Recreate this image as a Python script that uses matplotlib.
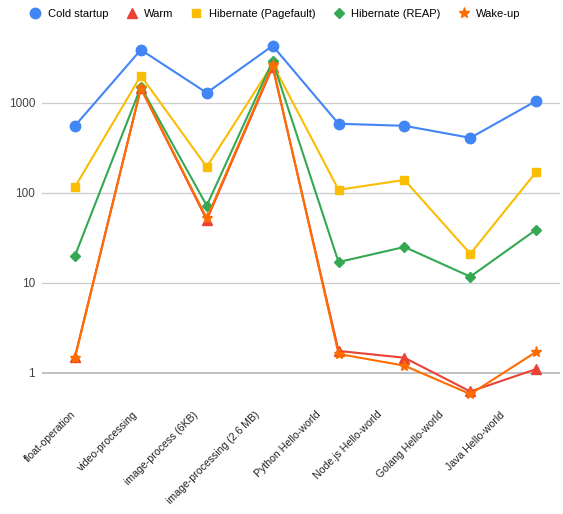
import matplotlib
matplotlib.use("Agg")
import matplotlib.pyplot as plt
import matplotlib.transforms as mtransforms
import numpy as np

categories = ["float-operation", "video-processing", "image-process (6KB)",
              "image-processing (2.6 MB)", "Python Hello-world",
              "Node.js Hello-world", "Golang Hello-world", "Java Hello-world"]

cold_startup = [555, 3880, 1290, 4300, 585, 555, 408, 1050]
warm = [1.5, 1450, 50, 2500, 1.75, 1.47, 0.62, 1.1]
hibernate_pagefault = [116, 2000, 194, 2700, 108, 139, 21, 171]
hibernate_reap = [20, 1500, 72, 2900, 17, 25, 11.7, 39]
wake_up = [1.47, 1450, 52, 2600, 1.62, 1.2, 0.58, 1.71]

series = [
    ("Cold startup", cold_startup, "#4285F4", "o", 7.5),
    ("Warm", warm, "#EA4335", "^", 6.5),
    ("Hibernate (Pagefault)", hibernate_pagefault, "#FBBC04", "s", 6),
    ("Hibernate (REAP)", hibernate_reap, "#34A853", "D", 5.5),
    ("Wake-up", wake_up, "#FF6D01", "*", 8),
]

plt.rcParams['font.family'] = ['Arial', 'Liberation Sans', 'DejaVu Sans']

fig = plt.figure(figsize=(5.63, 5.14), dpi=100)
ax = fig.add_axes([0.0746, 0.222, 0.92, 0.72])

x = np.arange(len(categories))
for name, vals, color, marker, ms in series:
    ax.plot(x, vals, color=color, marker=marker, markersize=ms, linewidth=1.5,
            label=name, zorder=3)

ax.set_yscale("log")
ax.set_ylim(0.5, 6470)
ax.set_xlim(-0.5, 7.36)
ax.set_yticks([1, 10, 100, 1000])
ax.set_yticklabels(["1", "10", "100", "1000"])
ax.minorticks_off()
ax.tick_params(axis="y", length=0, labelsize=8.5, labelcolor="#444444", pad=5)
ax.tick_params(axis="x", length=0, labelsize=7.6, labelcolor="#222222", pad=7)
ax.set_xticks(x)
ax.set_xticklabels(categories, rotation=45, ha="right", rotation_mode="anchor")

# the labels in the original drift left a little more for each category
for i, lab in enumerate(ax.get_xticklabels()):
    shift = mtransforms.ScaledTranslation(-(4 + 4.7 * i) / 100, 0, fig.dpi_scale_trans)
    lab.set_transform(lab.get_transform() + shift)

for v in [10, 100, 1000]:
    ax.axhline(v, color="#cccccc", linewidth=0.9, zorder=1)
ax.axhline(1, color="#bbbbbb", linewidth=1.3, zorder=1)

for s in ax.spines.values():
    s.set_visible(False)

ax.legend(loc="upper center", bbox_to_anchor=(0.45, 1.068), ncol=5, frameon=False,
          fontsize=8, handlelength=1.0, handletextpad=0.6, columnspacing=1.6,
          borderaxespad=0)
leg = ax.get_legend()
for h in leg.legend_handles:
    h.set_linestyle("none")

fig.savefig("out.png", dpi=100)
